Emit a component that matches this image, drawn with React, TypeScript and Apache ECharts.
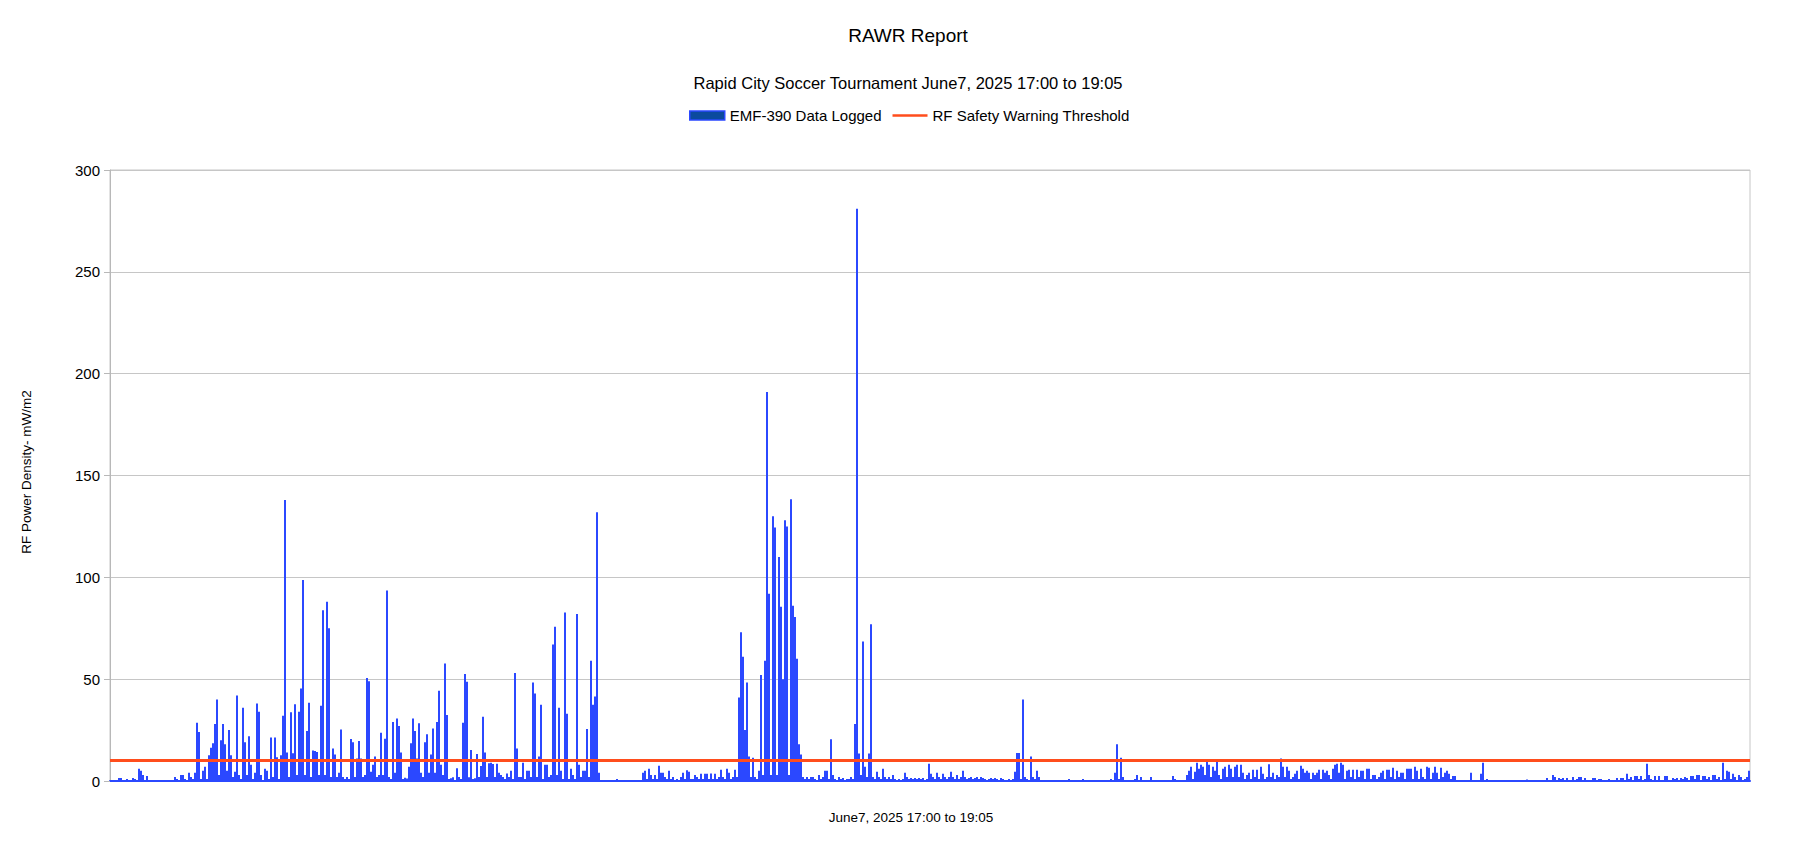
import React, { useEffect, useRef } from "react";
import * as echarts from "echarts";

// ---- Chart texts ----
const titleText = "RAWR Report";
const subtitleText = "Rapid City Soccer Tournament June7, 2025 17:00 to 19:05";
const xAxisTitle = "June7, 2025 17:00 to 19:05";
const yAxisTitle = "RF Power Density- mW/m2";
const seriesName = "EMF-390 Data Logged";
const thresholdName = "RF Safety Warning Threshold";

// ---- Y axis ----
const yMin = 0;
const yMax = 300;
const yStep = 50;
const thresholdValue = 10;

// ---- Logged readings (mW/m2), in time order, 17:00 -> 19:05 ----
const readings0 = [0,0,0,0.5,1.5,1.5,0,0.5,1,0.5, 0,1.5,1,0,6,5,3,0.5,2.5,0, 0,0,0,0,0,0,0,0,0,0, 0,0,2,1,0.5,3,3,1,0.5,4, 2,1,4,28.6,24,1,5,7,1,12.7];
const readings1 = [16.3,18.5,28,40,3,20,28,18,5,25, 12.6,2,4.6,42,3,1,36,19,3,22, 8,1,4,38,34,3,0.5,6,5,1, 21.4,2,21.4,11.6,1,12.7,32,138,14,2, 33.7,13.6,37.7,3,34,45.4,98.7,3,24.5,38.4];
const readings2 = [2,15,14.7,14.2,3,37,83.8,3,88,75, 2,16,13,2,4,25.3,2,1,2,1, 20.6,19,2,11,19.6,11,2,3,50.6,49, 4.6,8,12,2,3,23.7,3,20.7,93.5,2, 1,29,4,30.7,27,14,1,1.6,1.2,7];
const readings3 = [18.5,30.7,24.5,11,28.3,4,2,19,23,4, 13,25.8,4,29,44.3,8,3,57.7,32.4,1, 1.3,1.8,0,6.2,2,1,28.6,52.5,48.7,1.8, 15.2,1,1.3,13.2,2,7.4,31.5,14,2,8.7, 9,8.3,2,8.5,4,3,2,1,3.7,2];
const readings4 = [5,1,53,16,2,2,9,1,5,5, 2,48.4,43,2,12,37.4,1,8,8,2, 3,67,75.7,3,36,5,1,82.7,33,1, 6,3,1,82,8,2,5,5,25.5,2, 59,37.4,41.5,132,4,0,0,0,0,0];
const readings5 = [0,0,0,1,0,0,0,0,0,0, 0,0,0,0,0,0,4,5,1,6, 3,1,3,1,7.5,4,4,2,1,5, 1,2,0.5,1,0.5,2,4,1,5.3,4.5, 1,1,3,2,1,3.5,1,3.5,3.5,1];
const readings6 = [3.7,1,3.5,1,2,5.5,2,1,6,4, 1,2,5.5,2,41,73,61,25,48.4,12, 2,11.4,2,1,5,52,3,59,191,92, 3,130,124.5,3,110,85.5,50,128,125,3, 138.4,86,80.5,60,18,13,2,1,2,1];
const readings7 = [2,2,1,0.5,3,1,2,5,5,1, 20.5,3,1,0.5,2,1,1.5,0.5,1,1, 2,1,28,281,13.5,3,68.5,7,2,13.5, 77,2,1,4.5,2,1,6,2,1,2, 1,3,1,0.5,1,0.5,1,4,2,1];
const readings8 = [1.5,1,1.5,1,1.5,1,1.5,0.5,1,8.5, 3.5,2,1,4,2,1,3.5,2,1,2, 4.5,2,1,3,1,2,5,2,1,1.5, 2,1,1.5,2,1,2,1.5,1,0.5,1, 1.5,1,1.5,1,0.5,1.5,1,0.5,0.5,1];
const readings9 = [0.5,1,4.5,13.7,13.7,1,40,2,1,0.5, 12,2,1,5,2,0,0,0,0,0, 0,0,0,0,0,0,0,0,0,1, 0,0,0,0,0,0,1,0,0,0, 0,0,0,0,0,0,0,0,0,0];
const readings10 = [1,0,4,18,1,11.4,2,0,0,0, 0,0,1,3,0,2,0,0,0,0, 2,0,0,0,0,0,0,0,0,0, 0,2.5,1,0,0,0,0,0,3,5, 7,1,4.5,9,6,8,7,3,9.5,8];
const readings11 = [2,7,5,9.5,3,1,6,7,2,8, 6,2,7,8,2,8,4,1,3,4, 1,5.5,2,5.5,1,7,3.5,1,2,8.2, 2,4,1,3,2,11,7,2,7,5, 1,2,3.5,5,1,7.5,6,4,5,4];
const readings12 = [1,4,3,4,5.5,1,5.5,4,5,3, 1,6,8,8.5,4,9,8,1,5,5.5, 2,5.5,1,5.5,2,5,5,1,6,6, 1,3,3,1,2,4,5,1,5.5,5.5, 2,6.5,1,5,2,4,4,1,6,6];
const readings13 = [6,1,7,5,1,6,2,1,7,6.5, 1,4,7,4,1,6.5,2,4,5,3.5, 1,2.5,2.5,0,0,0,0,0,0,0, 4,0,0,0,0,3.5,9,0,1,0, 0,0,0,0,0,0,0,0,0,0];
const readings14 = [0,0,0,0,0,0,0,0,0.7,0, 0,0,0,0,0,0,0,0,1.5,0, 0.5,3,2,0.5,1.5,1,1.5,0.5,1.5,0.5, 0.5,2,0.5,1,2,2,0.5,1.5,0.5,0.5, 0.5,1.5,1.5,0.5,1,1,0.5,0.5,0.5,1];
const readings15 = [0.5,0.5,0.5,1.5,0.5,1.5,1.5,0.5,3.5,1, 2,0.5,2.5,2.5,1,2.5,0.5,1,8.5,3, 1,0.5,2.5,0.5,2.5,0.5,0.5,2.5,2.5,0.5, 0.5,1.5,1,1.5,0.5,1.5,1,2,1.5,0.5, 2.5,2.5,1,3,3,0.5,2.5,2.5,1,2];
const readings16 = [0.5,3,3,1,2,0.5,9,1,5,4.5, 1,3.5,2,0.5,3,2,0.5,1,2,5];

const readings = [
  ...readings0, ...readings1, ...readings2, ...readings3, ...readings4,
  ...readings5, ...readings6, ...readings7, ...readings8, ...readings9,
  ...readings10, ...readings11, ...readings12, ...readings13, ...readings14,
  ...readings15, ...readings16,
];
const sampleLabels = readings.map((_, i) => String(i + 1));

const BLUE = "#2b48ff";
const RED = "#ff4d1c";
const FONT = "'Liberation Sans', Arial, Helvetica, sans-serif";

export default function App() {
  const ref = useRef<HTMLDivElement>(null);

  useEffect(() => {
    if (!ref.current) return;
    const chart = echarts.init(ref.current, undefined, { renderer: "svg" });
    chart.setOption({
      animation: false,
      backgroundColor: "#ffffff",
      textStyle: { fontFamily: FONT },
      grid: {
        left: 110,
        right: 46,
        top: 170,
        bottom: 62,
        show: true,
        borderColor: "#c6c6c6",
        borderWidth: 1,
        containLabel: false,
      },
      graphic: [
        {
          type: "text",
          x: 908,
          y: 35,
          style: {
            text: titleText,
            font: `19px ${FONT}`,
            fill: "#000",
            textAlign: "center",
            textVerticalAlign: "middle",
            align: "center",
            verticalAlign: "middle",
          },
        },
        {
          type: "text",
          x: 908,
          y: 83,
          style: {
            text: subtitleText,
            font: `16.5px ${FONT}`,
            fill: "#000",
            textAlign: "center",
            textVerticalAlign: "middle",
            align: "center",
            verticalAlign: "middle",
          },
        },
        {
          type: "text",
          x: 911,
          y: 817,
          style: {
            text: xAxisTitle,
            font: `13.5px ${FONT}`,
            fill: "#000",
            textAlign: "center",
            textVerticalAlign: "middle",
            align: "center",
            verticalAlign: "middle",
          },
        },
        {
          type: "text",
          x: 26,
          y: 472,
          rotation: Math.PI / 2,
          style: {
            text: yAxisTitle,
            font: `13.5px ${FONT}`,
            fill: "#000",
            textAlign: "center",
            textVerticalAlign: "middle",
            align: "center",
            verticalAlign: "middle",
          },
        },
      ],
      legend: {
        left: 689,
        top: 108,
        padding: 0,
        itemWidth: 35,
        itemHeight: 9,
        itemGap: 11,
        textStyle: { fontSize: 15, color: "#000", fontFamily: FONT },
        data: [
          {
            name: seriesName,
            icon: "rect",
            itemStyle: { color: "#0b4a9e", borderColor: BLUE, borderWidth: 1.5 },
          },
          {
            name: thresholdName,
            icon: "path://M0,0 L35,0 L35,2.5 L0,2.5 Z",
            itemStyle: { color: RED },
          },
        ],
      },
      xAxis: {
        type: "category",
        data: sampleLabels,
        boundaryGap: true,
        axisLine: { show: true, lineStyle: { color: BLUE, width: 2 } },
        axisTick: { show: false },
        axisLabel: { show: false },
        splitLine: { show: false },
      },
      yAxis: {
        type: "value",
        min: yMin,
        max: yMax,
        interval: yStep,
        axisLine: { show: true, lineStyle: { color: "#b8b8b8", width: 1 } },
        axisTick: { show: true, length: 6, lineStyle: { color: "#b8b8b8" } },
        axisLabel: { fontSize: 15, color: "#000", margin: 10, fontFamily: FONT },
        splitLine: { show: true, lineStyle: { color: "#c6c6c6", width: 1 } },
      },
      series: [
        {
          name: seriesName,
          type: "bar",
          data: readings,
          barCategoryGap: "0%",
          itemStyle: { color: BLUE },
          emphasis: { disabled: true },
          z: 2,
        },
        {
          name: thresholdName,
          type: "line",
          data: [],
          symbol: "none",
          itemStyle: { color: RED },
          lineStyle: { color: RED, width: 3 },
          z: 3,
          markLine: {
            silent: true,
            symbol: ["none", "none"],
            label: { show: false },
            lineStyle: { color: RED, width: 3, type: "solid" },
            data: [{ yAxis: thresholdValue }],
          },
        },
      ],
    });
    return () => chart.dispose();
  }, []);

  return (
    <div
      ref={ref}
      style={{ position: "fixed", left: 0, top: 0, width: 1796, height: 843, background: "#fff" }}
    />
  );
}
